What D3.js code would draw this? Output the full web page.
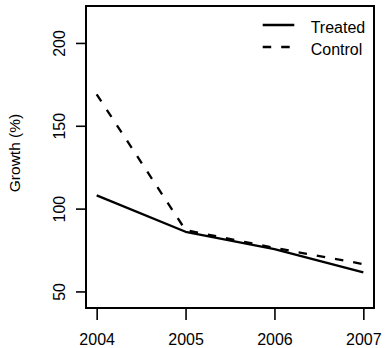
<!DOCTYPE html>
<html>
<head>
<meta charset="utf-8">
<script src="https://cdn.jsdelivr.net/npm/d3@7"></script>
<style>
  html, body { margin: 0; padding: 0; background: #fff; }
  svg { display: block; }
  text { font-family: "Liberation Sans", Arial, Helvetica, sans-serif; font-size: 16px; fill: #000; }
</style>
</head>
<body>
<script>
// Growth by year for the two groups
const years = [2004, 2005, 2006, 2007];
const treated = [108, 86, 75.5, 61.5];
const control = [169, 87, 76.3, 66.5];
const yTicks = [50, 100, 150, 200];
const seriesNames = ["Treated", "Control"];

const W = 385, H = 348;
const plot = { left: 86, right: 374, top: 6, bottom: 308 };

const svg = d3.select("body").append("svg")
  .attr("width", W).attr("height", H);

const x = d3.scaleLinear().domain([2003.88, 2007.12]).range([plot.left, plot.right]);
const y = d3.scaleLinear().domain([40, 222.3]).range([plot.bottom, plot.top]);

// Frame around the plotting region
svg.append("rect")
  .attr("x", plot.left).attr("y", plot.top)
  .attr("width", plot.right - plot.left).attr("height", plot.bottom - plot.top)
  .attr("fill", "none").attr("stroke", "#000").attr("stroke-width", 2);

// Bottom axis
const xAxis = svg.append("g")
  .attr("transform", `translate(0,${plot.bottom})`)
  .call(d3.axisBottom(x).tickValues(years).tickFormat(d3.format("d")).tickSize(12).tickPadding(14));
xAxis.select(".domain").remove();
xAxis.selectAll(".tick line").attr("stroke-width", 1.6);
xAxis.selectAll("text").style("font-size", "16px").style("font-family", null);

// Left axis with vertical labels
const yAxis = svg.append("g")
  .attr("transform", `translate(${plot.left},0)`)
  .call(d3.axisLeft(y).tickValues(yTicks).tickSize(10));
yAxis.select(".domain").remove();
yAxis.selectAll(".tick line").attr("stroke-width", 1.6);
yAxis.selectAll(".tick text")
  .attr("x", null).attr("dy", null)
  .attr("text-anchor", "middle")
  .attr("transform", "translate(-21,0) rotate(-90)")
  .style("font-size", "16px").style("font-family", null);

// Y axis title
svg.append("text")
  .attr("transform", "translate(19.5,153) rotate(-90)")
  .attr("text-anchor", "middle")
  .style("font-size", "15.5px")
  .text("Growth (%)");

const line = d3.line()
  .x((d, i) => x(years[i]))
  .y(d => y(d));

const dash = "8.5,10";

svg.append("path")
  .datum(treated)
  .attr("d", line)
  .attr("fill", "none").attr("stroke", "#000").attr("stroke-width", 2.3)
  .attr("stroke-linejoin", "round");

svg.append("path")
  .datum(control)
  .attr("d", line)
  .attr("fill", "none").attr("stroke", "#000").attr("stroke-width", 2.3)
  .attr("stroke-dasharray", dash);

// Legend
const legend = svg.append("g");
const legendRows = [
  { name: seriesNames[0], dash: null, y: 25 },
  { name: seriesNames[1], dash: dash, y: 47 }
];
legendRows.forEach(r => {
  legend.append("line")
    .attr("x1", 262.7).attr("x2", 294.3)
    .attr("y1", r.y).attr("y2", r.y)
    .attr("stroke", "#000").attr("stroke-width", 2.3)
    .attr("stroke-dasharray", r.dash);
  legend.append("text")
    .attr("x", 310.7).attr("y", r.y + 7.5)
    .text(r.name);
});
</script>
</body>
</html>
